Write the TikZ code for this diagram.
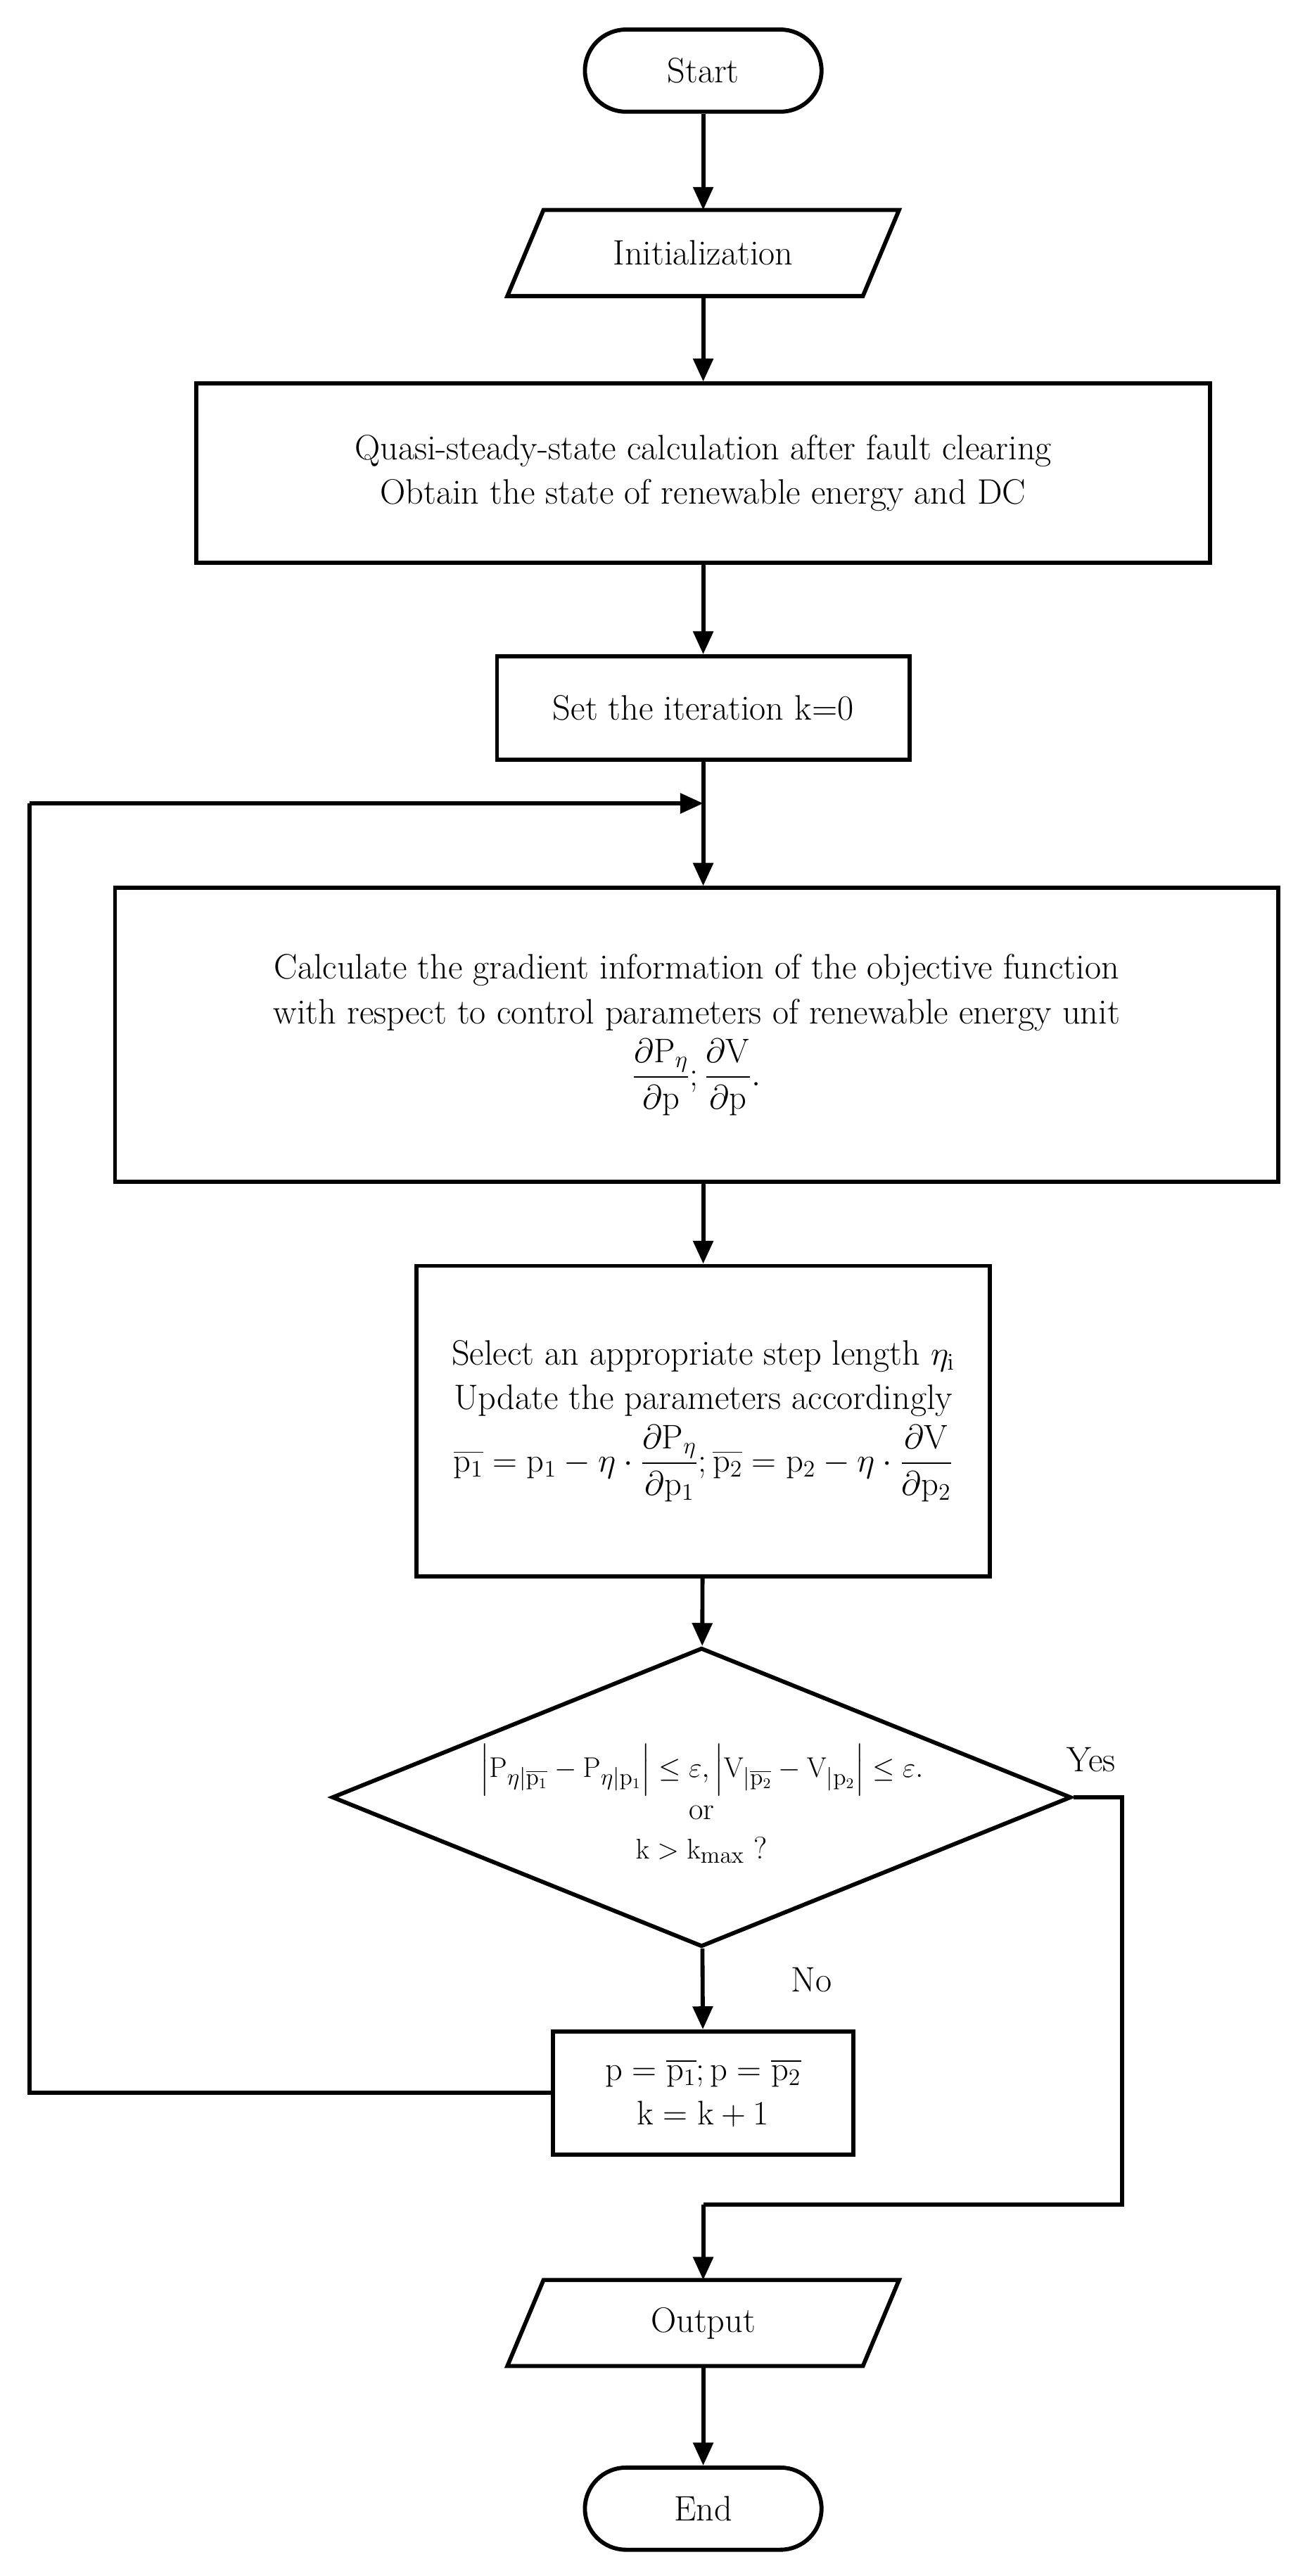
\documentclass[tikz,border=0pt]{standalone}
\usepackage{amsmath}
\usetikzlibrary{shapes.geometric,arrows.meta}
\begin{document}
\begin{tikzpicture}[x=1pt,y=-1pt,
  every node/.style={font=\fontsize{21.5}{27}\selectfont},
  box/.style={draw,line width=2.5pt,align=center,inner sep=0pt},
  io/.style={minimum height=52pt,minimum width=216pt,inner sep=0pt},
  term/.style={draw,line width=2.5pt,rounded corners=25pt,minimum width=144pt,minimum height=50pt},
  line/.style={line width=2.5pt},
  arr/.style={line width=2.5pt,-{Triangle[length=14pt,width=12pt]}}]
\useasboundingbox (0,0) rectangle (794,1568);
\node[term] (start) at (428,43) {Start};
\node[io] (init) at (428,154) {Initialization};
\draw[line] ([xshift=-11pt]init.south west) -- ([xshift=11pt]init.north west) -- ([xshift=11pt]init.north east) -- ([xshift=-11pt]init.south east) -- cycle;
\node[box,minimum width=617pt,minimum height=109pt] (b1) at (428,288) {Quasi-steady-state calculation after fault clearing\\Obtain the state of renewable energy and DC};
\node[box,minimum width=251pt,minimum height=63pt] (b2) at (428,431) {Set the iteration k=0};
\coordinate (j) at (428,489);
\node[box,minimum width=708pt,minimum height=179pt] (b3) at (424,630) {Calculate the gradient information of the objective function\\with respect to control parameters of renewable energy unit\\[4pt]
$\dfrac{\partial \mathrm{P}_{\eta}}{\partial \mathrm{p}};\dfrac{\partial \mathrm{V}}{\partial \mathrm{p}}.$};
\node[box,minimum width=349pt,minimum height=189pt] (b4) at (428,865) {Select an appropriate step length $\eta_{\mathrm{i}}$\\Update the parameters accordingly\\[4pt]
$\overline{\mathrm{p}_1}=\mathrm{p}_1-\eta\cdot\dfrac{\partial \mathrm{P}_{\eta}}{\partial \mathrm{p}_1};\overline{\mathrm{p}_2}=\mathrm{p}_2-\eta\cdot\dfrac{\partial \mathrm{V}}{\partial \mathrm{p}_2}$};
\node[draw,line width=2.5pt,diamond,aspect=2.47,minimum width=450pt,minimum height=182pt,inner sep=0pt] (d) at (427,1094) {};
\node[align=center,font=\fontsize{19}{24}\selectfont] (dt) at (427,1098) {$\left|\mathrm{P}_{\eta|\overline{\mathrm{p}_1}}-\mathrm{P}_{\eta|\mathrm{p}_1}\right|\le\varepsilon,\left|\mathrm{V}_{|\overline{\mathrm{p}_2}}-\mathrm{V}_{|\mathrm{p}_2}\right|\le\varepsilon.$\\[2pt] or\\[0pt] $\mathrm{k}>\mathrm{k}_{\max}$ ?};
\node[box,minimum width=183pt,minimum height=75pt] (b5) at (428,1274) {$\mathrm{p}=\overline{\mathrm{p}_1};\mathrm{p}=\overline{\mathrm{p}_2}$\\$\mathrm{k}=\mathrm{k}+1$};
\node[io] (out) at (428,1414) {Output};
\draw[line] ([xshift=-11pt]out.south west) -- ([xshift=11pt]out.north west) -- ([xshift=11pt]out.north east) -- ([xshift=-11pt]out.south east) -- cycle;
\node[term] (end) at (428,1527) {End};
\node (yes) at (664,1071) {Yes};
\node (no) at (494,1205) {No};
\coordinate (r1) at (683,1094);
\coordinate (r2) at (683,1342);
\coordinate (r3) at (428,1342);
\coordinate (l1) at (18,1274);
\coordinate (l2) at (18,489);
\draw[arr] (start) -- (init);
\draw[arr] (init) -- (b1);
\draw[arr] (b1) -- (b2);
\draw[line] (b2) -- (j);
\draw[arr] (j) -- (b3.north -| j);
\draw[arr] (b3.south -| j) -- (b4);
\draw[arr] (b4) -- (d);
\draw[arr] (d) -- (b5);
\draw[line] (b5.west) -- (l1) -- (l2);
\draw[arr] (l2) -- (j);
\draw[line] (d.east) -- (r1) -- (r2) -- (r3);
\draw[arr] (r3) -- (out);
\draw[arr] (out) -- (end);
\end{tikzpicture}
\end{document}
